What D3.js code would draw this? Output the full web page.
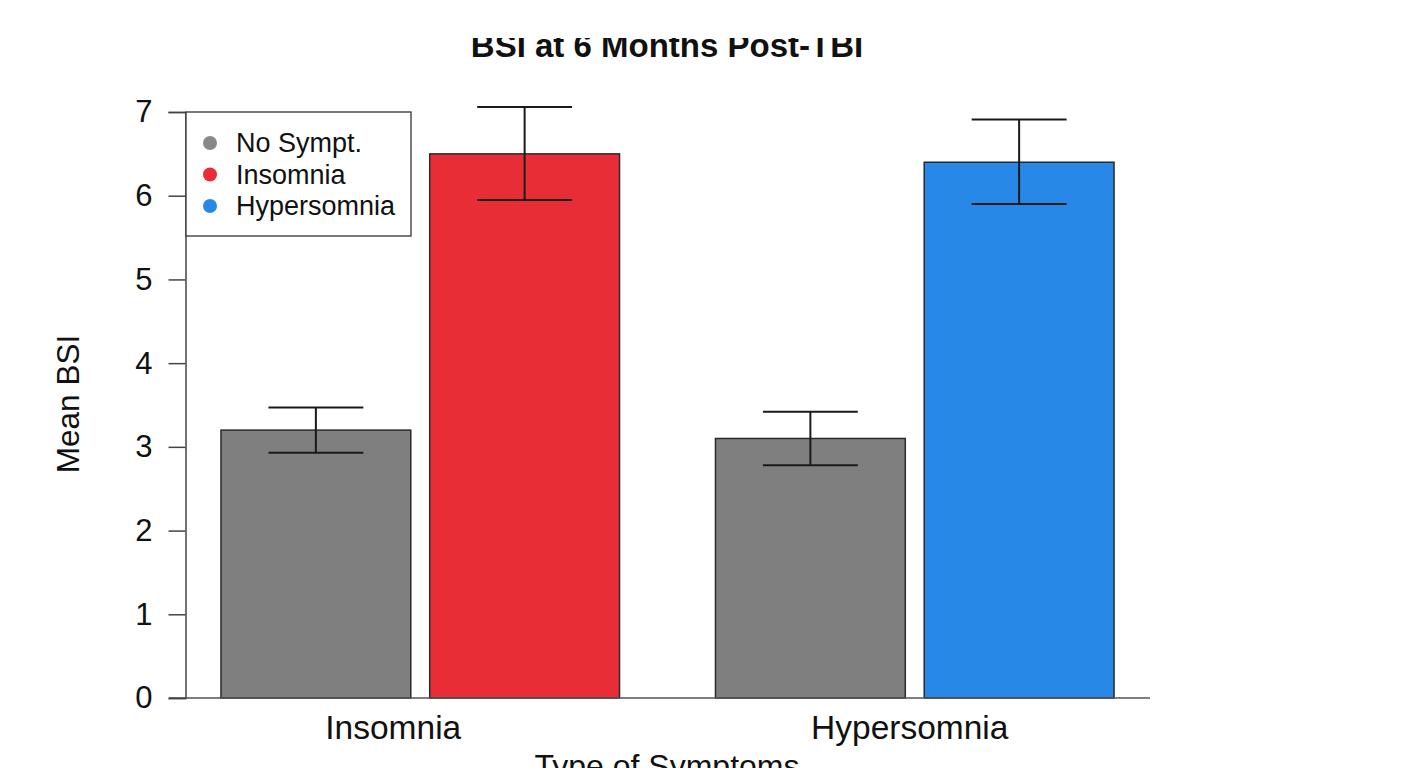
<!DOCTYPE html>
<html>
<head>
<meta charset="utf-8">
<script src="https://cdn.jsdelivr.net/npm/d3@7"></script>
<style>
  html, body { margin: 0; padding: 0; background: #fff; overflow: hidden; }
  svg { display: block; font-family: "Liberation Sans", Arial, sans-serif; }
</style>
</head>
<body>
<svg id="chart" width="1401" height="768"></svg>
<script>
// Mean BSI by symptom type, with error bar limits
const categories = ["Insomnia", "Hypersomnia"];
const seriesNames = ["No Sympt.", "Insomnia", "Hypersomnia"];
const noSymptMean = [3.2, 3.1];
const noSymptLow = [2.93, 2.78];
const noSymptHigh = [3.47, 3.42];
const symptMean = [6.5, 6.4];
const symptLow = [5.95, 5.9];
const symptHigh = [7.06, 6.91];
const yTicks = [0, 1, 2, 3, 4, 5, 6, 7];

const colors = { "No Sympt.": "#7f7f7f", "Insomnia": "#e82d36", "Hypersomnia": "#2888e8" };

// one row per bar: the comparison group first, then the symptomatic group
const bars = [];
categories.forEach((c, i) => {
  bars.push({ cat: c, slot: 0, series: "No Sympt.", mean: noSymptMean[i], lo: noSymptLow[i], hi: noSymptHigh[i] });
  bars.push({ cat: c, slot: 1, series: c, mean: symptMean[i], lo: symptLow[i], hi: symptHigh[i] });
});

const svg = d3.select("#chart");

const y = d3.scaleLinear().domain([0, 7]).range([698, 112]);
const x0 = d3.scaleBand().domain(categories).range([173, 1162]).paddingInner(0.194).paddingOuter(0.097);
const x1 = d3.scaleBand().domain([0, 1]).range([0, x0.bandwidth()]).paddingInner(0.0907);

// title (top edge clipped)
svg.append("defs").append("clipPath").attr("id", "titleClip")
  .append("rect").attr("x", 0).attr("y", 38).attr("width", 1401).attr("height", 40);
svg.append("text")
  .attr("x", 667).attr("y", 57)
  .attr("text-anchor", "middle")
  .attr("clip-path", "url(#titleClip)")
  .style("font-weight", "bold").style("font-size", "33px").attr("fill", "#111")
  .text("BSI at 6 Months Post-TBI");

// bars
const g = svg.append("g");
g.selectAll("rect.bar").data(bars).join("rect")
  .attr("class", "bar")
  .attr("x", d => x0(d.cat) + x1(d.slot))
  .attr("width", x1.bandwidth())
  .attr("y", d => y(d.mean))
  .attr("height", d => y(0) - y(d.mean))
  .attr("fill", d => colors[d.series])
  .attr("stroke", "#2a2a2a").attr("stroke-width", 1.5);

// error bars
const cx = d => x0(d.cat) + x1(d.slot) + x1.bandwidth() / 2;
const capHalf = x1.bandwidth() / 4;
const eb = g.selectAll("g.err").data(bars).join("g").attr("class", "err")
  .attr("stroke", "#1a1a1a").attr("stroke-width", 2);
eb.append("line").attr("x1", cx).attr("x2", cx).attr("y1", d => y(d.hi)).attr("y2", d => y(d.lo));
eb.append("line").attr("x1", d => cx(d) - capHalf).attr("x2", d => cx(d) + capHalf).attr("y1", d => y(d.hi)).attr("y2", d => y(d.hi));
eb.append("line").attr("x1", d => cx(d) - capHalf).attr("x2", d => cx(d) + capHalf).attr("y1", d => y(d.lo)).attr("y2", d => y(d.lo));

// baseline across the plot
svg.append("line")
  .attr("x1", 169).attr("x2", 1150).attr("y1", y(0)).attr("y2", y(0))
  .attr("stroke", "#555").attr("stroke-width", 1.5);

// y axis
const yAxis = svg.append("g").attr("transform", "translate(185.5,0)")
  .call(d3.axisLeft(y).tickValues(yTicks).tickSize(17).tickPadding(16).tickFormat(d3.format("d")));
yAxis.select(".domain").attr("stroke", "#444").attr("stroke-width", 1.5);
yAxis.selectAll(".tick line").attr("stroke", "#444").attr("stroke-width", 1.5);
yAxis.selectAll(".tick text").style("font-size", "31px").attr("fill", "#111")
  .attr("font-family", "Liberation Sans, Arial, sans-serif");

// category labels
const labelNudge = [-27, -5];
svg.selectAll("text.cat").data(categories).join("text")
  .attr("class", "cat")
  .attr("x", (c, i) => x0(c) + x0.bandwidth() / 2 + labelNudge[i])
  .attr("y", 739)
  .attr("text-anchor", "middle")
  .style("font-size", "33.5px").attr("fill", "#111")
  .text(c => c);

// axis titles
svg.append("text")
  .attr("x", 667).attr("y", 777)
  .attr("text-anchor", "middle")
  .style("font-size", "32px").attr("fill", "#111")
  .text("Type of Symptoms");
svg.append("text")
  .attr("transform", "translate(79,404) rotate(-90)")
  .attr("text-anchor", "middle")
  .style("font-size", "31.5px").attr("fill", "#111")
  .text("Mean BSI");

// legend
const legend = svg.append("g");
legend.append("rect")
  .attr("x", 186).attr("y", 112).attr("width", 225).attr("height", 124)
  .attr("fill", "#fff").attr("stroke", "#333").attr("stroke-width", 1.3);
const items = legend.selectAll("g.item").data(seriesNames).join("g")
  .attr("class", "item")
  .attr("transform", (d, i) => `translate(0,${143 + i * 31.5})`);
items.append("circle").attr("cx", 210).attr("cy", 0).attr("r", 7)
  .attr("fill", d => d === "No Sympt." ? "#888" : colors[d]);
items.append("text").attr("x", 236).attr("y", 9)
  .style("font-size", "27px").attr("fill", "#111")
  .text(d => d);
</script>
</body>
</html>
